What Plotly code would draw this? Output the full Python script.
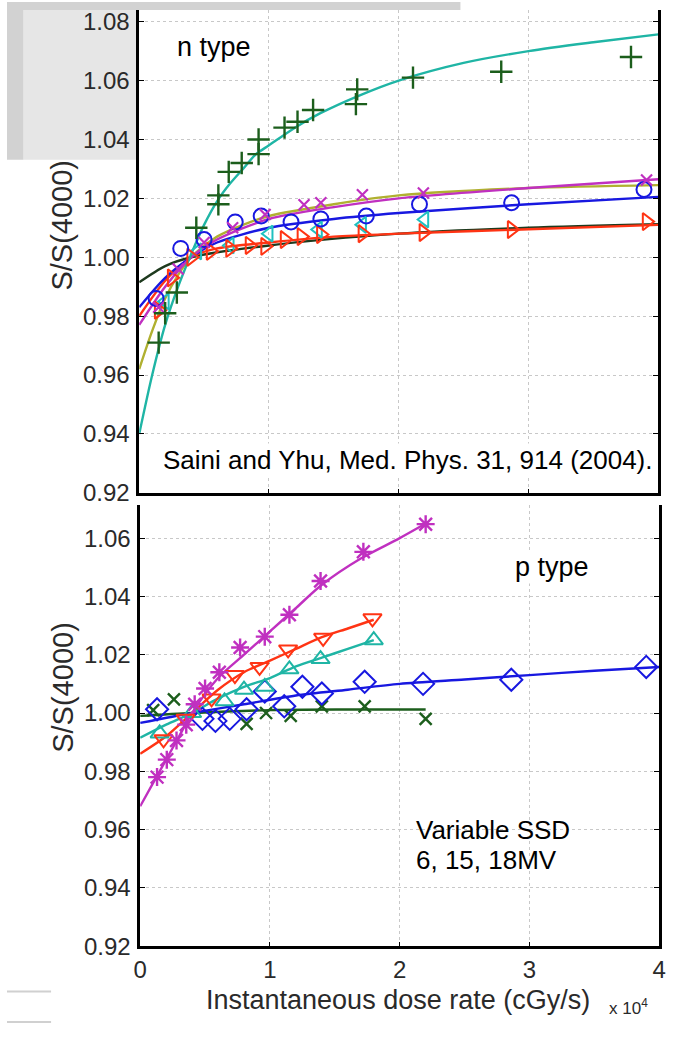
import plotly.graph_objects as go

W, H = 677, 1038
SC = 1e4

# ---------------- n type (top panel) ----------------
n_plus_x = [0.15, 0.20, 0.29, 0.44, 0.61, 0.61, 0.69, 0.79, 0.92, 0.92, 1.12, 1.22, 1.34, 1.67, 1.68, 2.11, 2.79, 3.79]
n_plus_y = [0.971, 0.981, 0.988, 1.010, 1.018, 1.021, 1.029, 1.032, 1.035, 1.040, 1.044, 1.046, 1.050, 1.052, 1.057, 1.061, 1.063, 1.068]
n_plus_fit_x = [0, 0.1, 0.2, 0.3, 0.4, 0.5, 0.6, 0.7, 0.8, 0.9, 1.0, 1.2, 1.4, 1.7, 2.0, 2.5, 3.0, 3.5, 4.0]
n_plus_fit_y = [0.940, 0.960, 0.977, 0.990, 1.001, 1.011, 1.019, 1.025, 1.030, 1.035, 1.038, 1.044, 1.049, 1.055, 1.060, 1.066, 1.070, 1.073, 1.0757]

n_circ_x = [0.13, 0.32, 0.50, 0.74, 0.94, 1.17, 1.40, 1.75, 2.16, 2.87, 3.89]
n_circ_y = [0.986, 1.003, 1.006, 1.012, 1.014, 1.012, 1.013, 1.014, 1.018, 1.0185, 1.023]
n_circ_fit_x = [0, 0.2, 0.4, 0.6, 1.0, 1.5, 2.0, 3.0, 4.0]
n_circ_fit_y = [0.983, 0.993, 1.000, 1.005, 1.010, 1.013, 1.015, 1.018, 1.0205]

n_x_x = [0.15, 0.30, 0.50, 0.72, 0.97, 1.27, 1.40, 1.72, 2.19, 3.91]
n_x_y = [0.983, 0.996, 1.005, 1.010, 1.0145, 1.0178, 1.0185, 1.0212, 1.0218, 1.0262]
n_x_fit_x = [0, 0.2, 0.4, 0.6, 1.0, 1.5, 2.0, 3.0, 4.0]
n_x_fit_y = [0.977, 0.990, 1.000, 1.006, 1.013, 1.017, 1.020, 1.0235, 1.0265]

n_tr_x = [0.15, 0.25, 0.40, 0.55, 0.70, 0.85, 0.97, 1.12, 1.25, 1.40, 1.72, 2.19, 2.87, 3.91]
n_tr_y = [0.982, 0.993, 1.000, 1.002, 1.003, 1.004, 1.0037, 1.006, 1.007, 1.0077, 1.008, 1.0084, 1.0094, 1.0121]
n_tr_fit_x = [0, 0.2, 0.4, 0.6, 1.0, 1.5, 2.0, 3.0, 4.0]
n_tr_fit_y = [0.980, 0.992, 1.000, 1.003, 1.005, 1.007, 1.008, 1.0095, 1.011]

n_tl_x = [0.20, 0.45, 0.70, 1.00, 1.38, 1.72, 2.20]
n_tl_y = [0.985, 1.002, 1.004, 1.008, 1.0094, 1.011, 1.0128]
n_olive_fit_x = [0, 0.1, 0.2, 0.3, 0.4, 0.6, 0.8, 1.0, 1.5, 2.0, 3.0, 4.0]
n_olive_fit_y = [0.962, 0.975, 0.986, 0.994, 1.000, 1.007, 1.011, 1.014, 1.018, 1.021, 1.0235, 1.0245]

n_dark_fit_x = [0, 0.2, 0.4, 1.0, 2.0, 3.0, 4.0]
n_dark_fit_y = [0.9915, 0.997, 1.000, 1.004, 1.008, 1.010, 1.0112]

# ---------------- p type (bottom panel) ----------------
p_star_x = [0.13, 0.205, 0.28, 0.355, 0.42, 0.50, 0.61, 0.77, 0.96, 1.15, 1.39, 1.72, 2.20]
p_star_y = [0.978, 0.984, 0.9906, 0.996, 1.003, 1.0084, 1.014, 1.0225, 1.0262, 1.0337, 1.0453, 1.0553, 1.0648]
p_star_fit_x = [0, 0.1, 0.2, 0.3, 0.4, 0.6, 0.8, 1.0, 1.2, 1.4, 1.7, 2.0, 2.2]
p_star_fit_y = [0.968, 0.976, 0.984, 0.992, 1.000, 1.012, 1.020, 1.028, 1.036, 1.044, 1.053, 1.060, 1.065]

p_td_x = [0.18, 0.35, 0.55, 0.73, 0.92, 1.14, 1.41, 1.79]
p_td_y = [0.991, 0.998, 1.005, 1.013, 1.0158, 1.0218, 1.0258, 1.0325]
p_td_fit_x = [0, 0.2, 0.4, 0.6, 0.8, 1.0, 1.2, 1.4, 1.6, 1.8]
p_td_fit_y = [0.986, 0.992, 1.000, 1.008, 1.014, 1.018, 1.022, 1.026, 1.029, 1.032]

p_tu_x = [0.15, 0.40, 0.65, 0.80, 0.96, 1.15, 1.39, 1.80]
p_tu_y = [0.993, 1.000, 1.004, 1.008, 1.009, 1.015, 1.0185, 1.025]
p_tu_fit_x = [0, 0.2, 0.4, 0.6, 0.8, 1.0, 1.2, 1.4, 1.6, 1.8]
p_tu_fit_y = [0.9915, 0.996, 1.000, 1.005, 1.009, 1.012, 1.016, 1.019, 1.022, 1.025]

p_dia_x = [0.13, 0.48, 0.58, 0.69, 0.82, 0.96, 1.11, 1.25, 1.40, 1.73, 2.18, 2.86, 3.90]
p_dia_y = [1.0013, 0.998, 0.9973, 0.998, 1.0013, 1.0074, 1.0023, 1.009, 1.0067, 1.0107, 1.010, 1.0114, 1.0158]
p_dia_fit_x = [0, 0.4, 0.8, 1.2, 1.6, 2.0, 2.5, 3.0, 3.5, 4.0]
p_dia_fit_y = [0.9966, 1.000, 1.003, 1.006, 1.008, 1.010, 1.0115, 1.013, 1.0145, 1.0158]

p_x_x = [0.10, 0.26, 0.82, 0.97, 1.16, 1.40, 1.73, 2.20]
p_x_y = [1.001, 1.0047, 0.9963, 1.000, 0.999, 1.0023, 1.0023, 0.998]
p_x_fit_x = [0, 0.4, 1.0, 1.6, 2.2]
p_x_fit_y = [0.999, 1.000, 1.001, 1.0012, 1.0012]

x_ticks = [0, 1, 2, 3, 4]
y_ticks = [0.92, 0.94, 0.96, 0.98, 1.00, 1.02, 1.04, 1.06, 1.08]

TEAL = "#1fb5a5"
DKGREEN = "#1c5e1c"
BLUE = "#1818e0"
MAGENTA = "#c030c0"
RED = "#ff3414"
OLIVE = "#b0b030"
CYAN = "#20c0c0"
DARK = "#1e3a1e"
FONT = "Liberation Sans, Arial, sans-serif"


def sx(v):
    return [a * SC for a in v]


fig = go.Figure()


def add_fit(xs, ys, color, ax, width=2.4):
    fig.add_trace(go.Scatter(x=sx(xs), y=ys, mode="lines",
                             line=dict(color=color, width=width, shape="spline", smoothing=0.8),
                             xaxis=ax[0], yaxis=ax[1], showlegend=False, hoverinfo="skip"))


def add_pts(xs, ys, color, symbol, ax, size=14, lw=2):
    fig.add_trace(go.Scatter(x=sx(xs), y=ys, mode="markers",
                             marker=dict(symbol=symbol, size=size, color=color, line=dict(color=color, width=lw)),
                             xaxis=ax[0], yaxis=ax[1], showlegend=False))


T = ("x", "y")
B = ("x2", "y2")

# top panel
add_fit(n_olive_fit_x, n_olive_fit_y, OLIVE, T)
add_fit(n_dark_fit_x, n_dark_fit_y, DARK, T)
add_fit(n_tr_fit_x, n_tr_fit_y, RED, T)
add_fit(n_circ_fit_x, n_circ_fit_y, BLUE, T)
add_fit(n_x_fit_x, n_x_fit_y, MAGENTA, T)
add_fit(n_plus_fit_x, n_plus_fit_y, TEAL, T)
add_pts(n_tl_x, n_tl_y, CYAN, "triangle-left-open", T, size=14)
add_pts(n_tr_x, n_tr_y, RED, "triangle-right-open", T, size=15)
add_pts(n_circ_x, n_circ_y, BLUE, "circle-open", T, size=15)
add_pts(n_x_x, n_x_y, MAGENTA, "x-thin-open", T, size=11, lw=2.2)
add_pts(n_plus_x, n_plus_y, DKGREEN, "cross-thin-open", T, size=16, lw=2.4)

# bottom panel
add_fit(p_x_fit_x, p_x_fit_y, DKGREEN, B)
add_fit(p_dia_fit_x, p_dia_fit_y, BLUE, B)
add_fit(p_tu_fit_x, p_tu_fit_y, TEAL, B)
add_fit(p_td_fit_x, p_td_fit_y, RED, B)
add_fit(p_star_fit_x, p_star_fit_y, MAGENTA, B)
add_pts(p_x_x, p_x_y, DKGREEN, "x-thin-open", B, size=12, lw=2.4)
add_pts(p_dia_x, p_dia_y, BLUE, "diamond-open", B, size=17)
add_pts(p_tu_x, p_tu_y, TEAL, "triangle-up-open", B, size=16)
add_pts(p_td_x, p_td_y, RED, "triangle-down-open", B, size=16)
add_pts(p_star_x, p_star_y, MAGENTA, "asterisk-open", B, size=15, lw=2.4)


def px_x(p):
    return p / W


def px_y(p):
    return 1 - p / H


tickfont = dict(family=FONT, size=24, color="#2a2a2a")
grid = dict(showgrid=True, gridcolor="#c8c8c8", gridwidth=1, griddash="dot")

xcommon = dict(range=[0, 4 * SC], tickvals=[t * SC for t in x_ticks], ticktext=[str(t) for t in x_ticks],
               showline=True, linecolor="black", linewidth=2.5, ticks="inside", ticklen=4, tickcolor="black",
               zeroline=False, tickfont=tickfont, **grid)
ycommon = dict(tickvals=y_ticks, ticktext=["%.2f" % t for t in y_ticks], showline=True, linecolor="black",
               linewidth=2.5, ticks="inside", ticklen=5, tickcolor="black", mirror="ticks", zeroline=False,
               tickfont=tickfont, ticklabelstandoff=2, **grid)

fig.update_layout(
    width=W, height=H, margin=dict(l=0, r=0, t=0, b=0),
    paper_bgcolor="white", plot_bgcolor="white",
    xaxis=dict(domain=[px_x(135), px_x(665)], anchor="y", showticklabels=False, **xcommon),
    yaxis=dict(domain=[px_y(498), px_y(8)], anchor="x", range=[0.92, 1.084], **ycommon),
    xaxis2=dict(domain=[px_x(136), px_x(666)], anchor="y2", showticklabels=True, **xcommon),
    yaxis2=dict(domain=[px_y(958), px_y(510)], anchor="x2", range=[0.92, 1.0715], **ycommon),
)

txt = dict(family=FONT, size=26, color="black")
ann = [
    dict(text="n type", x=px_x(172), y=px_y(46), xanchor="left", yanchor="middle", font=dict(family=FONT, size=27, color="black"),
         bgcolor="white", showarrow=False, xref="paper", yref="paper"),
    dict(text="Saini and Yhu, Med. Phys. 31, 914 (2004).", x=px_x(409), y=px_y(465), xanchor="center",
         yanchor="middle", font=txt, bgcolor="white", showarrow=False, xref="paper", yref="paper"),
    dict(text="p type", x=px_x(517), y=px_y(573), xanchor="left", yanchor="middle", font=dict(family=FONT, size=27, color="black"),
         bgcolor="white", showarrow=False, xref="paper", yref="paper"),
    dict(text="Variable SSD", x=px_x(416), y=px_y(840), xanchor="left", yanchor="middle",
         font=dict(family=FONT, size=26, color="black"), showarrow=False, xref="paper", yref="paper"),
    dict(text="6, 15, 18MV", x=px_x(416), y=px_y(871), xanchor="left", yanchor="middle",
         font=dict(family=FONT, size=26, color="black"), showarrow=False, xref="paper", yref="paper"),
    dict(text="S/S(4000)", x=px_x(56), y=px_y(226), textangle=-90, xanchor="center", yanchor="middle",
         font=dict(family=FONT, size=29, color="#2a2a2a"),
         showarrow=False, xref="paper", yref="paper"),
    dict(text="S/S(4000)", x=px_x(57), y=px_y(695), textangle=-90, xanchor="center", yanchor="middle",
         font=dict(family=FONT, size=29, color="#2a2a2a"),
         showarrow=False, xref="paper", yref="paper"),
    dict(text="Instantaneous dose rate (cGy/s)", x=px_x(399), y=px_y(1013), xanchor="center", yanchor="middle",
         font=dict(family=FONT, size=27, color="#2a2a2a"),
         showarrow=False, xref="paper", yref="paper"),
    dict(text="x 10<sup>4</sup>", x=px_x(635), y=px_y(1020), xanchor="center", yanchor="middle",
         font=dict(family=FONT, size=17, color="#2a2a2a"),
         showarrow=False, xref="paper", yref="paper"),
]
fig.update_layout(annotations=ann)

# slide background remnants
shapes = [
    dict(type="rect", xref="paper", yref="paper", x0=0, x1=px_x(463), y0=px_y(8), y1=1,
         fillcolor="#d2d2d2", line=dict(width=0), layer="above"),
    dict(type="rect", xref="paper", yref="paper", x0=0, x1=px_x(17), y0=px_y(160), y1=px_y(8),
         fillcolor="#d2d2d2", line=dict(width=0), layer="below"),
    dict(type="rect", xref="paper", yref="paper", x0=px_x(17), x1=px_x(133), y0=px_y(160), y1=px_y(8),
         fillcolor="#e6e6e6", line=dict(width=0), layer="below"),
    dict(type="line", xref="paper", yref="paper", x0=0, x1=px_x(45), y0=px_y(1004), y1=px_y(1004),
         line=dict(color="#d0d0d0", width=2)),
    dict(type="line", xref="paper", yref="paper", x0=0, x1=px_x(45), y0=px_y(1035), y1=px_y(1035),
         line=dict(color="#d0d0d0", width=2)),
]
fig.update_layout(shapes=shapes)

post = (
    "document.documentElement.style.margin='0';"
    "document.body.style.margin='0';"
    "document.documentElement.style.overflow='hidden';"
    "document.body.style.overflow='hidden';"
    "var d=document.querySelector('.plotly-graph-div');"
    "if(d){d.style.position='fixed';d.style.left='0px';d.style.top='0px';"
    "var w=window.innerWidth, h=window.innerHeight;"
    "if(w>0&&h>0&&(w!=677||h!=1038)){d.style.width=w+'px';d.style.height=h+'px';"
    "Plotly.relayout(d,{width:w,height:h});}}"
)
fig.write_html("out.html", config={"displayModeBar": False}, post_script=post)
